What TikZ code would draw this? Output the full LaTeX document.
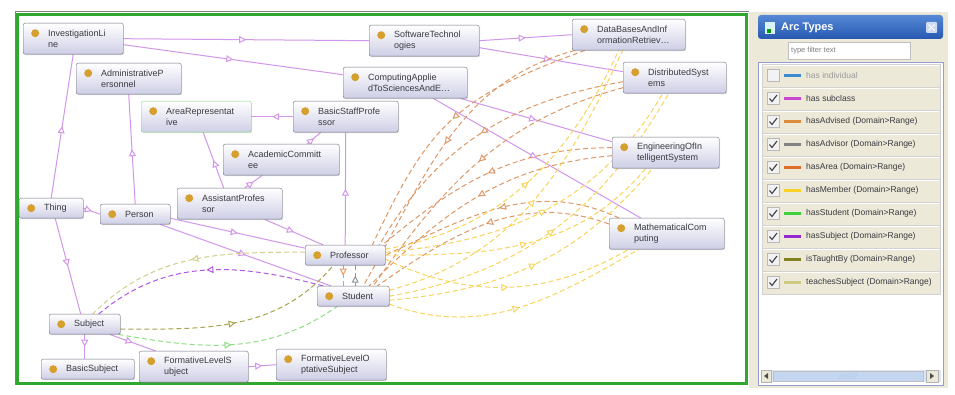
\documentclass[tikz,border=0pt]{standalone}
\usepackage{fontspec}
\setmainfont{Liberation Sans}
\usetikzlibrary{arrows.meta,decorations.markings,shadows}
\pgfdeclarelayer{edges}
\pgfsetlayers{edges,main}

\definecolor{nodeedge}{RGB}{112,112,128}
\definecolor{nodefill}{RGB}{206,206,230}
\definecolor{nodetext}{RGB}{58,58,64}
\definecolor{dotgold}{RGB}{214,160,48}
\definecolor{framegreen}{RGB}{48,168,48}
\definecolor{areagreen}{RGB}{130,220,130}
\definecolor{subline}{RGB}{210,150,234}
\definecolor{arealine}{RGB}{222,152,102}
\definecolor{memberline}{RGB}{250,212,90}
\definecolor{advisorline}{RGB}{150,150,150}
\definecolor{advisedline}{RGB}{232,158,96}
\definecolor{teachline}{RGB}{210,206,140}
\definecolor{subjline}{RGB}{176,88,226}
\definecolor{taughtline}{RGB}{168,164,80}
\definecolor{studline}{RGB}{140,224,130}
\definecolor{panelbg}{RGB}{236,233,216}
\definecolor{titletop}{RGB}{86,136,214}
\definecolor{titlebot}{RGB}{38,88,176}
\definecolor{listedge}{RGB}{150,156,206}
\definecolor{scrollblue}{RGB}{196,214,240}
\definecolor{lgindiv}{RGB}{60,140,210}
\definecolor{lgsub}{RGB}{200,70,210}
\definecolor{lgadvised}{RGB}{220,140,60}
\definecolor{lgadvisor}{RGB}{130,130,130}
\definecolor{lgarea}{RGB}{225,110,40}
\definecolor{lgmember}{RGB}{250,210,40}
\definecolor{lgstudent}{RGB}{60,210,60}
\definecolor{lgsubject}{RGB}{150,40,210}
\definecolor{lgtaught}{RGB}{128,128,30}
\definecolor{lgteaches}{RGB}{205,200,130}

\begin{document}
\begin{tikzpicture}[x=1pt, y=1pt,
  owlclass/.style={draw=nodeedge, rounded corners=2pt, top color=white, bottom color=nodefill,
    anchor=north west, minimum height=20pt, inner xsep=3pt, inner ysep=2pt,
    text width=#1pt-6pt, align=left, text=nodetext, font=\fontsize{9}{11}\selectfont,
    execute at begin node={\leftskip=22pt},
    drop shadow={shadow xshift=1pt, shadow yshift=-1pt, opacity=0.25},
    path picture={\fill[dotgold] ([shift={(12pt,-10pt)}]path picture bounding box.north west) circle (4pt);}},
  tall/.style={minimum height=31pt},
  subarc/.style={draw=subline, line width=1pt, postaction={decorate},
    decoration={markings, mark=at position 0.5 with {\arrow{Triangle[length=7pt, width=7pt, fill=white]}}}},
  dasharc/.style={draw=#1, line width=1pt, dash pattern=on 5pt off 3pt, postaction={decorate},
    decoration={markings, mark=at position 0.5 with {\arrow{Triangle[length=7pt, width=7pt, fill=white]}}}},
  legendtext/.style={anchor=west, font=\fontsize{8.5}{10}\selectfont, text=nodetext, inner sep=0pt}]
\useasboundingbox (0,0) rectangle (955,395);

\draw[gray, line width=1.5pt] (15.5,10) -- (15.5,383.5) -- (749,383.5);
\draw[framegreen, line width=2.5pt] (17.5,11.5) rectangle (746.5,380.5);

\node[owlclass=100, tall] (inv) at (23,372) {InvestigationLi\\ne};
\node[owlclass=105, tall] (adm) at (76,332) {AdministrativeP\\ersonnel};
\node[owlclass=110, tall, draw=areagreen] (area) at (141,294) {AreaRepresentat\\ive};
\node[owlclass=105, tall] (basic) at (293,294) {BasicStaffProfe\\ssor};
\node[owlclass=116, tall] (acad) at (223,251) {AcademicCommitt\\ee};
\node[owlclass=105, tall] (asst) at (177,207) {AssistantProfes\\sor};
\node[owlclass=110, tall] (soft) at (369,370) {SoftwareTechnol\\ogies};
\node[owlclass=113, tall] (dbs) at (572,376) {DataBasesAndInf\\ormationRetriev\ldots};
\node[owlclass=124, tall] (comp) at (343,328) {ComputingApplie\\dToSciencesAndE\ldots};
\node[owlclass=103, tall] (dist) at (623,333) {DistributedSyst\\ems};
\node[owlclass=107, tall] (eng) at (612,258) {EngineeringOfIn\\telligentSystem};
\node[owlclass=115, tall] (math) at (609,177) {MathematicalCom\\puting};
\node[owlclass=64] (thing) at (19,197) {Thing};
\node[owlclass=70] (person) at (100,191) {Person};
\node[owlclass=80] (prof) at (305,150) {Professor};
\node[owlclass=72] (stud) at (317,109) {Student};
\node[owlclass=71] (subj) at (49,81) {Subject};
\node[owlclass=93] (bsubj) at (41,36) {BasicSubject};
\node[owlclass=109, tall] (fls) at (139,44) {FormativeLevelS\\ubject};
\node[owlclass=110, tall] (flos) at (276,46) {FormativeLevelO\\ptativeSubject};

\begin{pgfonlayer}{edges}
\fill[white] (0,0) rectangle (955,395);
\draw[subarc] (inv.east) -- (soft.west);
\draw[subarc] ([yshift=-6pt]inv.east) -- ([yshift=8pt]comp.west);
\draw[subarc] (thing.north) -- (inv.south);
\draw[subarc] (person.north) -- (adm.south);
\draw[subarc] (basic.west) -- (area.east);
\draw[subarc] ([xshift=-6pt]asst.north) -- ([xshift=7pt]area.south);
\draw[subarc] ([xshift=15pt]asst.north) -- ([xshift=-19pt]acad.south);
\draw[subarc] ([xshift=26pt]acad.north) -- ([xshift=-25pt]basic.south);
\draw[subarc] (prof.north) -- (basic.south);
\draw[subarc] (thing.east) -- (person.west);
\draw[subarc] ([xshift=4pt]thing.south) -- ([xshift=-4pt]subj.north);
\draw[subarc] ([yshift=-4pt]person.east) -- ([yshift=7pt]prof.west);
\draw[subarc] ([xshift=25pt]person.south) -- ([xshift=-22pt]stud.north);
\draw[subarc] ([xshift=35pt]asst.south) -- ([xshift=-22pt]prof.north);
\draw[subarc] (subj.south) -- (subj.south |- bsubj.north);
\draw[subarc] ([xshift=25pt]subj.south) -- ([xshift=-38pt]fls.north);
\draw[subarc] (fls.east) -- (flos.west);
\draw[subarc] (soft.east) -- (dbs.west);
\draw[subarc] ([yshift=-7pt]soft.east) -- ([yshift=6pt]dist.west);
\draw[subarc] ([xshift=-7pt]comp.south east) -- ([yshift=11pt]eng.west);
\draw[subarc] ([xshift=28pt]comp.south) -- ([xshift=-26pt]math.north);

\draw[dasharc=arealine] ([xshift=13pt]dbs.south west) to[out=200, in=65, looseness=1.2] ([xshift=-13pt]prof.north east);
\draw[dasharc=arealine] ([xshift=3pt]dbs.south west) to[out=195, in=60] ([xshift=10pt]stud.north);
\draw[dasharc=arealine] ([yshift=-4pt]dist.west) to[out=190, in=60] ([xshift=-6pt]prof.north east);
\draw[dasharc=arealine] ([yshift=-10pt]dist.west) to[out=195, in=55] ([xshift=20pt]stud.north);
\draw[dasharc=arealine] ([yshift=5pt]eng.west) to[out=180, in=40] ([xshift=-3pt]prof.north east);
\draw[dasharc=arealine] ([yshift=-3pt]eng.west) to[out=185, in=45] ([xshift=16pt]stud.north);
\draw[dasharc=arealine] ([xshift=10pt]math.north west) to[out=155, in=25] (prof.east);
\draw[dasharc=arealine] ([yshift=-6pt]math.north west) to[out=160, in=35] ([xshift=24pt]stud.north);

\draw[dasharc=memberline] ([yshift=6pt]prof.east) to[out=10, in=245] ([xshift=-10pt]dbs.south);
\draw[dasharc=memberline] ([yshift=6pt]stud.east) to[out=15, in=245] ([xshift=-6pt]dbs.south);
\draw[dasharc=memberline] ([yshift=3pt]prof.east) to[out=5, in=240] ([xshift=-12pt]dist.south);
\draw[dasharc=memberline] (stud.east) to[out=10, in=240] ([xshift=-6pt]dist.south);
\draw[dasharc=memberline] (prof.east) to[out=0, in=230] ([xshift=-20pt]eng.south);
\draw[dasharc=memberline] ([yshift=-4pt]stud.east) to[out=5, in=230] ([xshift=-13pt]eng.south);
\draw[dasharc=memberline] ([yshift=-4pt]prof.east) to[out=-25, in=210] ([xshift=-38pt]math.south);
\draw[dasharc=memberline] ([yshift=-8pt]stud.east) to[out=-20, in=210] ([xshift=-28pt]math.south);

\draw[dasharc=teachline] ([yshift=3pt]prof.west) to[out=180, in=45] ([xshift=8pt]subj.north);
\draw[dasharc=subjline] ([xshift=-30pt]stud.north) to[out=165, in=40] ([xshift=14pt]subj.north);
\draw[dasharc=taughtline] ([yshift=-5pt]subj.east) to[out=0, in=230] ([xshift=-12pt]prof.south);
\draw[dasharc=studline] ([xshift=-2pt]subj.south east) to[out=-10, in=215] ([xshift=-16pt]stud.south);
\draw[dasharc=advisedline] ([xshift=-2pt]prof.south) -- ([xshift=-2pt]prof.south |- stud.north);
\draw[dasharc=advisorline] ([xshift=2pt]stud.north) -- ([xshift=2pt]stud.north |- prof.south);
\end{pgfonlayer}

\fill[panelbg] (749,7) rectangle (948,383);
\shade[top color=titletop, bottom color=titlebot, rounded corners=3pt] (758,356) rectangle (943,380);
\node[anchor=west, text=white, font=\fontsize{11}{13}\selectfont\bfseries, inner sep=0pt] (title) at (781,367) {Arc Types};
\fill[white!85!cyan] (765,361) rectangle (775,373);
\fill[green!60!black] (767,362) rectangle (771,366);
\fill[white!70!titletop, rounded corners=1pt] (926,362) rectangle (937,373);
\draw[white, line width=1pt] (928.5,364.5) -- (934.5,370.5) (928.5,370.5) -- (934.5,364.5);
\draw[gray!50, fill=white] (788,336) rectangle (910,353);
\node[anchor=west, text=gray, font=\fontsize{7.5}{9}\selectfont, inner sep=0pt] (filter) at (791,344.5) {type filter text};
\draw[listedge, fill=white] (758,10) rectangle (943,333);

\foreach \col/\txt [count=\i from 0] in {lgindiv/has individual, lgsub/has subclass, lgadvised/hasAdvised (Domain>Range), lgadvisor/hasAdvisor (Domain>Range), lgarea/hasArea (Domain>Range), lgmember/hasMember (Domain>Range), lgstudent/hasStudent (Domain>Range), lgsubject/hasSubject (Domain>Range), lgtaught/isTaughtBy (Domain>Range), lgteaches/teachesSubject (Domain>Range)} {
  \draw[gray!35, fill=panelbg] (762,{308-23*\i}) rectangle (940,{331-23*\i});
  \draw[white] (763,{330-23*\i}) -- (939,{330-23*\i});
  \draw[gray!55, fill=white!90!gray] (767,{313.5-23*\i}) rectangle (779,{325.5-23*\i});
  \draw[\col, line width=2.5pt] (784,{319.5-23*\i}) -- (801,{319.5-23*\i});
}
\node[legendtext, text=gray!80] (arc0) at (806,319.5) {has individual};
\foreach \txt [count=\i from 1] in {has subclass, hasAdvised (Domain>Range), hasAdvisor (Domain>Range), hasArea (Domain>Range), hasMember (Domain>Range), hasStudent (Domain>Range), hasSubject (Domain>Range), isTaughtBy (Domain>Range), teachesSubject (Domain>Range)} {
  \draw[black!75, line width=1.1pt] (769.5,{319.5-23*\i}) -- (772,{316.5-23*\i}) -- (777,{323-23*\i});
  \node[legendtext] (arc\i) at (806,{319.5-23*\i}) {\txt};
}

\fill[scrollblue!60] (761,13) rectangle (941,25);
\draw[gray!60, fill=panelbg] (761,13) rectangle (771,25);
\fill[black!70] (764,19) -- (768,22) -- (768,16) -- cycle;
\draw[gray!50, fill=scrollblue] (773,14) rectangle (923,24);
\foreach \k in {0,...,5} {\draw[white!50!titletop] ({839+3*\k},16) -- ({843+3*\k},22);}
\draw[gray!60, fill=panelbg] (926,13) rectangle (938,25);
\fill[black!70] (934,19) -- (930,22) -- (930,16) -- cycle;
\end{tikzpicture}
\end{document}
